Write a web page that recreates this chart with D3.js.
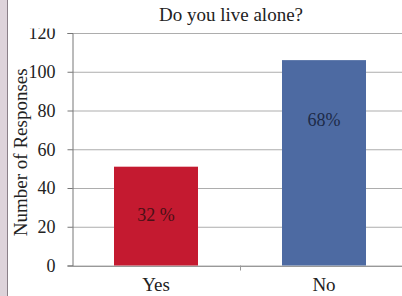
<!DOCTYPE html>
<html><head><meta charset="utf-8">
<script src="https://cdn.jsdelivr.net/npm/d3@7"></script>
<style>html,body{margin:0;padding:0;background:#fff;}svg{display:block;}
svg text{font-family:"Liberation Serif","DejaVu Serif",serif;}</style>
</head><body>
<svg id="c" width="402" height="296"></svg>
<script>
const categories = ["Yes", "No"];
const values = [51, 106];
const pctLabels = ["32 %", "68%"];
const pctLabelAt = [26, 75];
const barColors = ["#c41a30", "#4d6aa2"];
const labelColors = ["#4a1015", "#1d2a48"];
const yTicks = [0, 20, 40, 60, 80, 100, 120];

const svg = d3.select("#c");
const font = '"Liberation Serif","DejaVu Serif",serif';
const m = {l: 72, r: -6, t: 33, b: 30.5};
const W = 402, H = 296;

// left strip
svg.append("rect").attr("x", 0).attr("y", 0).attr("width", 7).attr("height", H).attr("fill", "#ddd3da");
svg.append("line").attr("x1", 7.5).attr("x2", 7.5).attr("y1", 0).attr("y2", H).attr("stroke", "#8a8088");

const x = d3.scaleBand().domain(categories).range([m.l, W - m.r]).paddingInner(0.5).paddingOuter(0.25);
const xb = d3.scaleBand().domain(categories).range([m.l, W - m.r]);
const y = d3.scaleLinear().domain([0, 120]).range([H - m.b, m.t]);

// gridlines
svg.append("g").selectAll("line").data(yTicks).join("line")
  .attr("x1", m.l).attr("x2", W).attr("y1", d => y(d) + 0.5).attr("y2", d => y(d) + 0.5)
  .attr("stroke", "#adadad").attr("stroke-width", 1);

// bars
svg.append("g").selectAll("rect").data(values).join("rect")
  .attr("x", (d, i) => x(categories[i])).attr("width", x.bandwidth())
  .attr("y", d => y(d)).attr("height", d => y(0) - y(d))
  .attr("fill", (d, i) => barColors[i]);

// y axis
const ya = svg.append("g").attr("transform", `translate(${m.l + 0.5},0)`)
  .call(d3.axisLeft(y).tickValues(yTicks).tickSize(5).tickPadding(12));
ya.attr("font-family", null);
ya.selectAll("path,line").attr("stroke", "#777");
ya.selectAll("text").style("font-family", font).style("font-size", "18px").attr("fill", "#222");

// white band clipping the top tick label, as in the reference
svg.append("rect").attr("x", 8).attr("y", 0).attr("width", 62).attr("height", 28.5).attr("fill", "#fff");

// x axis
const xa = svg.append("g").attr("transform", `translate(0,${y(0) + 0.5})`)
  .call(d3.axisBottom(xb).tickSize(0).tickPadding(11));
xa.attr("font-family", null);
xa.select("path").attr("stroke", "#999");
xa.selectAll("text").style("font-family", font).style("font-size", "19px").attr("fill", "#222").attr("dy", "0.75em");
svg.append("line").attr("x1", xb("No") + 0.5).attr("x2", xb("No") + 0.5)
  .attr("y1", y(0)).attr("y2", y(0) + 5).attr("stroke", "#999");

// bar labels
svg.append("g").selectAll("text").data(values).join("text")
  .attr("x", (d, i) => x(categories[i]) + x.bandwidth() / 2)
  .attr("y", (d, i) => y(pctLabelAt[i]) + 6)
  .attr("text-anchor", "middle").style("font-family", font).style("font-size", "18px")
  .attr("fill", (d, i) => labelColors[i]).text((d, i) => pctLabels[i]);

// title
svg.append("text").attr("x", 231).attr("y", 21).attr("text-anchor", "middle")
  .style("font-family", font).style("font-size", "19px").attr("fill", "#222").text("Do you live alone?");

// y title
svg.append("text").attr("transform", `translate(27,${(m.t + H - m.b) / 2 + 3}) rotate(-90)`)
  .attr("text-anchor", "middle").style("font-family", font).style("font-size", "19px").attr("fill", "#222")
  .text("Number of Responses");
</script>
</body></html>
